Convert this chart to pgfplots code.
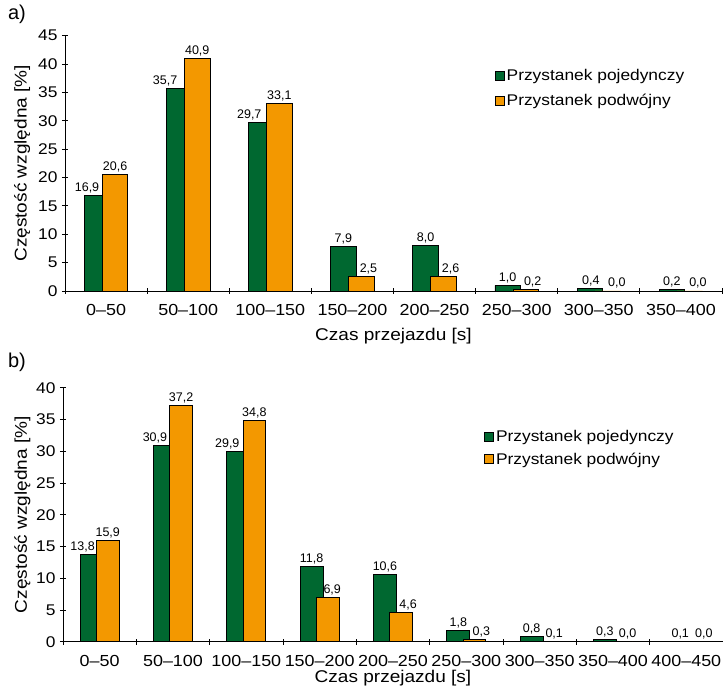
\documentclass[border=0pt]{standalone}
\usepackage{fontspec}
\setmainfont{Liberation Sans}[FakeStretch=1.12]
\newfontfamily\plainfont{Liberation Sans}
\usepackage{pgfplots}
\usepackage{pgfplotstable}
\pgfplotsset{compat=1.18}
\definecolor{cgreen}{RGB}{0,104,48}
\definecolor{corange}{RGB}{243,152,0}

\pgfplotstableread{
x  g     o     dx   dxo
0  16.9  20.6  -10  0
1  35.7  40.9  -14  0
2  29.7  33.1  -12  0
3  7.9   2.5   0    7
4  8.0   2.6   0    7
5  1.0   0.2   0    7
6  0.4   0.0   1    9
7  0.2   0.0   0    8
}\dataA
\pgfplotstableread{
x  g     o     dx   dxo
0  13.8  15.9  -9   0
1  30.9  37.2  -10  0
2  29.9  34.8  -11  0
3  11.8  6.9   0    4.5
4  10.6  4.6   0    7
5  1.8   0.3   0    7
6  0.8   0.1   0    6.5
7  0.3   0.0   0    6.5
8  0.1   0.0   2    9.5
}\dataB

\pgfplotsset{
  panel/.style={
    scale only axis,
    anchor=south west,
    axis x line*=bottom, axis y line*=left,
    axis line style={-, line width=0.8pt},
    every tick/.style={black, line width=0.8pt},
    tick align=center,
    major tick length=6pt,
    ymin=0,
    xmin=-0.5,
    /pgf/number format/assume math mode=true,
    yticklabel style={font=\fontsize{15.5}{16}\selectfont, xshift=-1pt},
    xticklabels={,,,,,,,,,,,},
    extra x tick labels={0–50,50–100,100–150,150–200,200–250,250–300,300–350,350–400,400–450},
    extra x tick style={major tick length=0pt, xticklabel style={font=\fontsize{16}{17}\selectfont, yshift=-10pt}},
    xlabel={Czas przejazdu [s]},
    ylabel={Częstość względna [\%]},
    legend cell align=left,
    legend image code/.code={\draw[#1, line width=0.8pt] (0pt,-4.5pt) rectangle (9pt,4.5pt);},
    clip=false,
  },
  gbar/.style={
    ybar, bar width=0.31, bar shift=0, fill=cgreen, draw=black, line width=0.8pt,
    nodes near coords={\pgfmathprintnumber[fixed,fixed zerofill,precision=1,use comma,assume math mode=true]{\pgfplotspointmeta}},
    visualization depends on=\thisrow{dx} \as \dx,
    every node near coord/.append style={font=\plainfont\fontsize{12.5}{13}\selectfont, anchor=south, inner sep=2pt, xshift=\dx pt, black},
  },
  obar/.style={
    ybar, bar width=0.31, bar shift=0, fill=corange, draw=black, line width=0.8pt,
    nodes near coords={\pgfmathprintnumber[fixed,fixed zerofill,precision=1,use comma,assume math mode=true]{\pgfplotspointmeta}},
    visualization depends on=\thisrow{dxo} \as \dxo,
    every node near coord/.append style={font=\plainfont\fontsize{12.5}{13}\selectfont, anchor=south, inner sep=2pt, xshift=\dxo pt, black},
  },
}

\begin{document}
\begin{tikzpicture}
\useasboundingbox (0,0) rectangle (723pt,688pt);

\node[font=\plainfont\fontsize{20}{22}\selectfont] at (17pt,674pt) {a)};
\node[font=\plainfont\fontsize{20}{22}\selectfont] at (17pt,326pt) {b)};

\begin{axis}[panel,
  at={(65pt,397pt)}, width=657pt, height=255.4pt,
  xmax=7.5, ymax=45, ytick={0,5,...,45},
  xtick={-0.5,0.5,...,7.5},
  extra x ticks={0,...,7},
  every axis y label/.style={at={(axis description cs:-0.0654,0.5)}, rotate=90, anchor=center, font=\fontsize{17}{18}\selectfont},
  every axis x label/.style={at={(axis description cs:0.5,-0.132)}, anchor=north, font=\fontsize{17}{18}\selectfont},
  legend style={draw=none, fill=none, at={(axis description cs:0.654,0.875)}, anchor=north west,
    font=\fontsize{15.5}{17}\selectfont, row sep=8pt, inner sep=0pt},
]
\addplot[gbar] table[x expr=\thisrow{x}-0.11, y=g] {\dataA};
\addplot[obar] table[x expr=\thisrow{x}+0.11, y=o] {\dataA};
\legend{Przystanek pojedynczy, Przystanek podwójny}
\end{axis}

\begin{axis}[panel,
  at={(63pt,46.3pt)}, width=660pt, height=254pt,
  xmax=8.5, ymax=40, ytick={0,5,...,40},
  xtick={-0.5,0.5,...,8.5},
  extra x ticks={0,...,8},
  every axis y label/.style={at={(axis description cs:-0.0614,0.5)}, rotate=90, anchor=center, font=\fontsize{17}{18}\selectfont},
  every axis x label/.style={at={(axis description cs:0.5,-0.1)}, anchor=north, font=\fontsize{17}{18}\selectfont},
  legend style={draw=none, fill=none, at={(axis description cs:0.638,0.84)}, anchor=north west,
    font=\fontsize{15.5}{17}\selectfont, row sep=5.5pt, inner sep=0pt},
]
\addplot[gbar] table[x expr=\thisrow{x}-0.11, y=g] {\dataB};
\addplot[obar] table[x expr=\thisrow{x}+0.11, y=o] {\dataB};
\legend{Przystanek pojedynczy, Przystanek podwójny}
\end{axis}
\end{tikzpicture}
\end{document}
